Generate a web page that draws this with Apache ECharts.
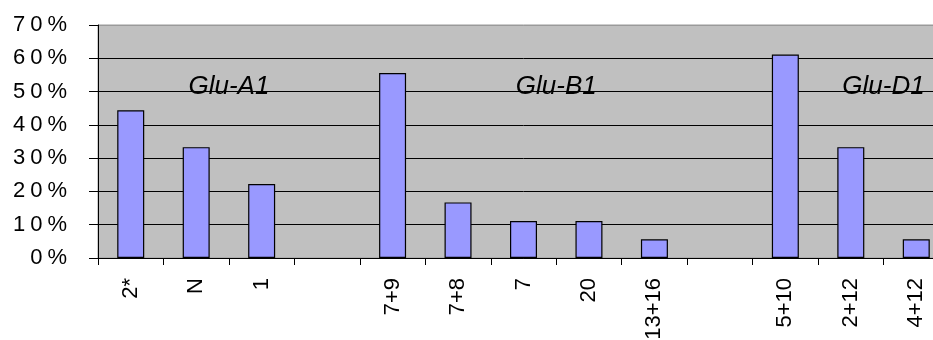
<!DOCTYPE html>
<html>
<head>
<meta charset="utf-8">
<script src="https://cdn.jsdelivr.net/npm/echarts@6/dist/echarts.min.js"></script>
<style>html,body{margin:0;padding:0;background:#fff;overflow:hidden}#c{width:960px;height:340px}</style>
</head>
<body>
<div id="c"></div>
<script>
const categories = ['2*', 'N', '1', '', '7+9', '7+8', '7', '20', '13+16', '', '5+10', '2+12', '4+12'];
const values = [0.444, 0.333, 0.222, null, 0.556, 0.167, 0.111, 0.111, 0.056, null, 0.611, 0.333, 0.056];
const yTicks = [0, 0.1, 0.2, 0.3, 0.4, 0.5, 0.6, 0.7];
const groupLabels = ['Glu-A1', 'Glu-B1', 'Glu-D1'];
const groupAfterIndex = [1, 6, 11]; // label centered on boundary after this category

const chart = echarts.init(document.getElementById('c'), null, {renderer: 'canvas'});
const font = 'Liberation Sans, Arial, sans-serif';
const option = {
  animation: false,
  grid: {left: 98, top: 25, right: 11, bottom: 82, outerBoundsMode: 'none', containLabel: false,
    show: true, backgroundColor: '#C0C0C0', borderColor: '#9a9a9a', borderWidth: 1},
  xAxis: {
    type: 'category', data: categories,
    axisLine: {lineStyle: {color: '#000', width: 1}},
    axisTick: {show: true, length: 7, lineStyle: {color: '#000'}},
    axisLabel: {rotate: 90, margin: 20, fontSize: 22, fontFamily: font, color: '#000', interval: 0}
  },
  yAxis: {
    type: 'value', min: yTicks[0], max: yTicks[yTicks.length - 1], interval: 0.1,
    axisLine: {show: true, lineStyle: {color: '#000', width: 1}},
    axisTick: {show: true, length: 9, lineStyle: {color: '#000'}},
    axisLabel: {margin: 31, color: '#000',
      formatter: v => {
        const s = Math.round(v * 100) + '%';
        return s.split('').map((ch, i) => (i === 0 ? '{a|' : '{b|') + ch + '}').join('');
      },
      rich: {
        a: {fontSize: 22, fontFamily: font, color: '#000'},
        b: {fontSize: 22, fontFamily: font, color: '#000', padding: [0, 0, 0, 5]}
      }
    },
    splitLine: {show: true, lineStyle: {color: ['#000', '#000', '#000', '#000', '#000', '#000', '#000', '#9a9a9a'], width: 1}}
  },
  series: [{
    type: 'bar', data: values, barWidth: 27,
    itemStyle: {color: '#9999FF', borderColor: '#000', borderWidth: 1.2}
  }]
};
chart.setOption(option);
const graphics = groupLabels.map((t, i) => {
  const p1 = chart.convertToPixel({gridIndex: 0}, [groupAfterIndex[i], 0]);
  const p2 = chart.convertToPixel({gridIndex: 0}, [groupAfterIndex[i] + 1, 0]);
  return {type: 'text', x: (p1[0] + p2[0]) / 2, y: 87,
    style: {text: t, font: 'italic 26px ' + font, fill: '#000', textAlign: 'center', textVerticalAlign: 'middle'}};
});
chart.setOption({graphic: graphics});
</script>
</body>
</html>
